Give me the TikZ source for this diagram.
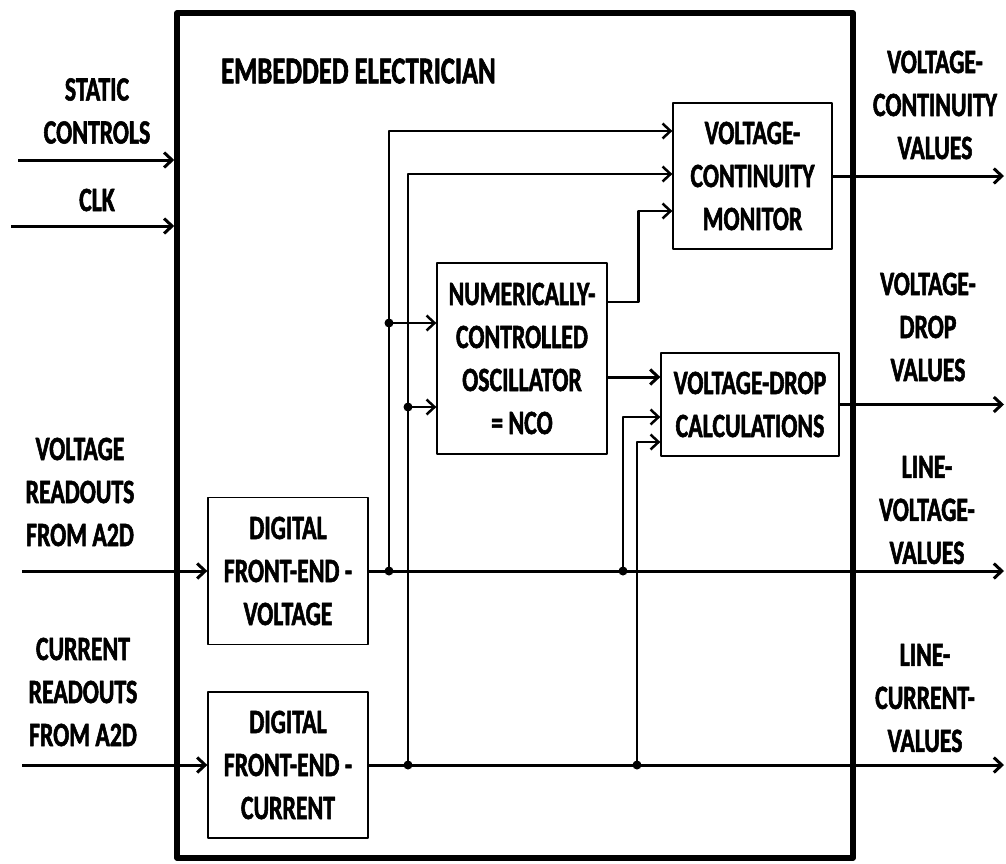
\documentclass[tikz,border=0pt]{standalone}
\usepackage{fontspec}
\setmainfont[FakeStretch=0.7,BoldFeatures={FakeBold=1.6}]{Carlito}
\usetikzlibrary{arrows.meta,calc}

\begin{document}
\begin{tikzpicture}[x=1pt,y=-1pt,line join=round,
  font=\fontsize{34}{43}\selectfont\bfseries,
  blk/.style={draw,line width=1.3pt,align=center,inner sep=0pt},
  lbl/.style={align=center,inner sep=0pt},
  arr/.style={line width=3pt,-{Straight Barb[length=8pt,width=15pt]}},
  busarr/.style={line width=2.5pt,-{Straight Barb[length=8pt,width=15pt]}}]
\useasboundingbox (0,0) rectangle (1006,863);

% outer frame
\node[draw,line width=5.5pt,minimum width=676pt,minimum height=845pt,inner sep=0pt] (ee) at (515,435.5) {};
\node[lbl,anchor=west,font=\fontsize{38}{43}\selectfont\bfseries] (title) at (221,71) {EMBEDDED ELECTRICIAN};

% blocks
\node[blk,minimum width=160pt,minimum height=147pt] (dfev) at (288,571) {DIGITAL\\FRONT-END -\\VOLTAGE};
\node[blk,minimum width=160pt,minimum height=146pt] (dfec) at (288,765) {DIGITAL\\FRONT-END -\\CURRENT};
\node[blk,minimum width=170pt,minimum height=191pt] (nco) at (522,358.5) {NUMERICALLY-\\CONTROLLED\\OSCILLATOR\\= NCO};
\node[blk,minimum width=159pt,minimum height=146pt] (vcm) at (752.5,176) {VOLTAGE-\\CONTINUITY\\MONITOR};
\node[blk,minimum width=178pt,minimum height=103pt] (vdc) at (750,404.5) {VOLTAGE-DROP\\CALCULATIONS};

% outside labels
\node[lbl] (sclbl) at (97,111) {STATIC\\CONTROLS};
\node[lbl] (clklbl) at (97,200) {CLK};
\node[lbl] (vinlbl) at (80,492) {VOLTAGE\\READOUTS\\FROM A2D};
\node[lbl] (cinlbl) at (83,692) {CURRENT\\READOUTS\\FROM A2D};
\node[lbl] (vclbl) at (935,105) {VOLTAGE-\\CONTINUITY\\VALUES};
\node[lbl] (vdlbl) at (928,327) {VOLTAGE-\\DROP\\VALUES};
\node[lbl] (lvlbl) at (927,510) {LINE-\\VOLTAGE-\\VALUES};
\node[lbl] (lclbl) at (925,698) {LINE-\\CURRENT-\\VALUES};

% pins
\coordinate (scin) at (18,160);
\coordinate (clkin) at (11,226);
\coordinate (vin) at (22,571);
\coordinate (cin) at (22,765);
\coordinate (j1) at (389,571);
\coordinate (j2) at (623,571);
\coordinate (j3) at (408,765);
\coordinate (j4) at (637,765);
\coordinate (vcm-in1) at ($(vcm.west)+(0,-45)$);
\coordinate (vcm-in2) at ($(vcm.west)+(0,-2)$);
\coordinate (vcm-in3) at ($(vcm.west)+(0,35)$);
\coordinate (nco-in1) at ($(nco.west)+(0,-35.5)$);
\coordinate (nco-in2) at ($(nco.west)+(0,48.5)$);
\coordinate (nco-out1) at ($(nco.east)+(0,-56.5)$);
\coordinate (nco-out2) at ($(nco.east)+(0,18.5)$);
\coordinate (vdc-in1) at ($(vdc.west)+(0,12.5)$);
\coordinate (vdc-in2) at ($(vdc.west)+(0,37.5)$);
\coordinate (o1) at (vcm.east -| 1004,0);
\coordinate (o2) at (vdc.east -| 1004,0);
\coordinate (o3) at (dfev.east -| 1004,0);
\coordinate (o4) at (dfec.east -| 1004,0);

% inputs and outputs
\draw[arr] (scin) -- (scin -| ee.west);
\draw[arr] (clkin) -- (clkin -| ee.west);
\draw[arr] (vin) -- (dfev.west);
\draw[arr] (cin) -- (dfec.west);
\draw[arr] (dfev.east) -- (o3);
\draw[arr] (dfec.east) -- (o4);
\draw[arr] (vcm.east) -- (o1);
\draw[arr] (vdc.east) -- (o2);

% internal buses
\draw[busarr] (j1) |- (vcm-in1);
\draw[busarr] (j3) |- (vcm-in2);
\draw[busarr] (j1 |- nco-in1) -- (nco-in1);
\draw[busarr] (j3 |- nco-in2) -- (nco-in2);
\draw[busarr] (nco-out1) -- ++(31,0) |- (vcm-in3);
\draw[arr] (nco-out2) -- (nco-out2 -| vdc.west);
\draw[busarr] (j2) |- (vdc-in1);
\draw[busarr] (j4) |- (vdc-in2);

% junction dots
\foreach \p in {j1,j2,j3,j4}
  \fill (\p) circle (4.5pt);
\fill (j1 |- nco-in1) circle (4.5pt);
\fill (j3 |- nco-in2) circle (4.5pt);
\end{tikzpicture}
\end{document}
